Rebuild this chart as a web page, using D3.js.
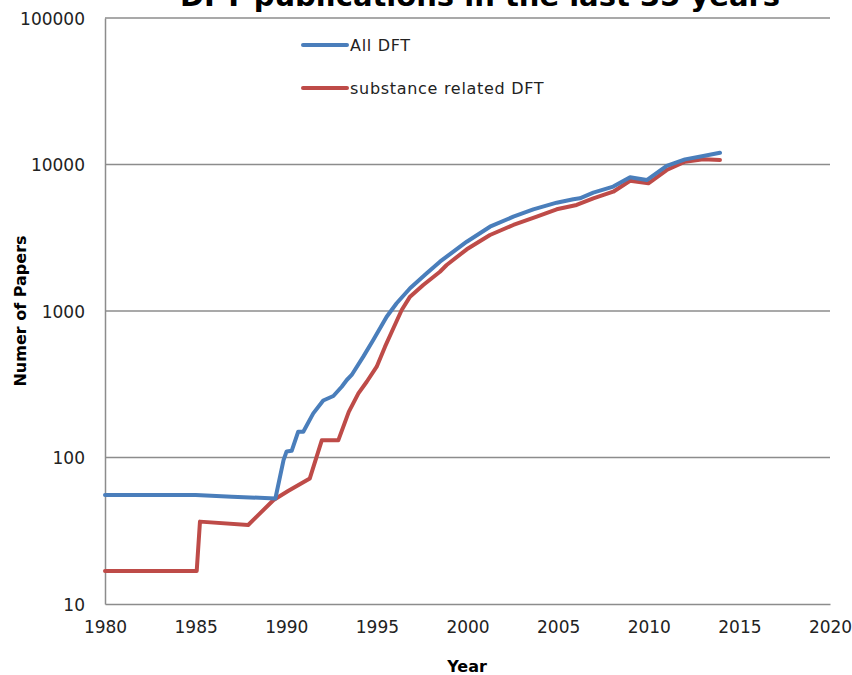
<!DOCTYPE html>
<html>
<head>
<meta charset="utf-8">
<script src="https://cdn.jsdelivr.net/npm/d3@7/dist/d3.min.js"></script>
<style>
  html, body { margin: 0; padding: 0; background: #fff; }
  svg { display: block; font-family: "DejaVu Sans", sans-serif; }
</style>
</head>
<body>
<svg id="chart" width="852" height="675"></svg>
<script>
// Publication counts per year (fractional years where the series was sampled within a year)
const allYears = [1980, 1985, 1987, 1989.4, 1989.85, 1990.02, 1990.3, 1990.66, 1990.94, 1991.49,
  1992.04, 1992.6, 1993.06, 1993.34, 1993.61, 1994.25, 1994.8, 1995.54, 1996.09, 1996.83,
  1997.75, 1998.48, 1998.85, 1999.96, 2001.24, 2002.53, 2003.63, 2004.92, 2005.84, 2006.2,
  2006.94, 2008.04, 2008.97, 2009.89, 2010.99, 2012, 2013.01, 2013.93];
const allCounts = [55.5, 55.5, 54, 52.5, 96, 110, 111, 150, 150, 200,
  245, 263, 304, 338, 366, 488, 634, 914, 1129, 1429,
  1808, 2171, 2349, 2972, 3762, 4404, 4945, 5486, 5785, 5879,
  6424, 7063, 8181, 7834, 9772, 10840, 11430, 12040];

const substanceYears = [1980, 1985.06, 1985.24, 1987.9, 1989.3, 1990.1, 1991.3, 1991.96, 1992.87, 1993.45,
  1993.98, 1994.44, 1994.99, 1995.45, 1995.91, 1996.37, 1996.83, 1997.56, 1998.48, 1998.85,
  1999.96, 2001.24, 2002.53, 2003.82, 2004.92, 2006.02, 2006.94, 2008.04, 2008.97, 2009.98,
  2010.99, 2012, 2013.01, 2013.93];
const substanceCounts = [16.8, 16.8, 36.5, 34.6, 51.3, 59, 72, 131, 131, 205,
  274, 329, 417, 571, 762, 1016, 1253, 1506, 1854, 2061,
  2637, 3303, 3865, 4404, 4945, 5293, 5879, 6521, 7750, 7440,
  9169, 10450, 10840, 10730];

const seriesNames = ["All DFT", "substance related DFT"];
const seriesColors = ["#4a7ebb", "#be4b48"];
const xTicks = [1980, 1985, 1990, 1995, 2000, 2005, 2010, 2015, 2020];
const yTicks = [10, 100, 1000, 10000, 100000];

const titleText = "DFT publications in the last 35 years";
const xTitle = "Year";
const yTitle = "Numer of Papers";

const svg = d3.select("#chart");
const margin = { left: 105, right: 22, top: 18, bottom: 71 };
const W = 852, H = 675;

const x = d3.scaleLinear().domain([1980, 2020]).range([margin.left, W - margin.right]);
const y = d3.scaleLog().domain([10, 100000]).range([H - margin.bottom, margin.top]);

const gridColor = "#8c8c8c";

// Horizontal gridlines (including the top border)
svg.append("g")
  .selectAll("line")
  .data(yTicks.slice(1))
  .join("line")
  .attr("x1", x(1980)).attr("x2", x(2020))
  .attr("y1", d => y(d)).attr("y2", d => y(d))
  .attr("stroke", gridColor).attr("stroke-width", 1.3);

// Axes
const xAxis = d3.axisBottom(x).tickValues(xTicks).tickFormat(d3.format("d")).tickSize(0).tickPadding(20);
const yAxis = d3.axisLeft(y).tickValues(yTicks).tickFormat(d3.format("d")).tickSize(0).tickPadding(20);

const gx = svg.append("g").attr("transform", `translate(0,${y(10)})`).call(xAxis);
const gy = svg.append("g").attr("transform", `translate(${x(1980)},0)`).call(yAxis);

[gx, gy].forEach(g => {
  g.select(".domain").attr("stroke", gridColor).attr("stroke-width", 1.5);
  g.selectAll("text").attr("font-size", 17).attr("fill", "#222")
    .attr("font-family", "DejaVu Sans, sans-serif");
});
gy.selectAll("text").attr("dy", "0.36em");
gx.selectAll("text").attr("dy", "0.5em");

// Series lines
const line = d3.line().x(d => x(d[0])).y(d => y(d[1]));
const series = [
  d3.zip(allYears, allCounts),
  d3.zip(substanceYears, substanceCounts)
];
// draw red first so blue sits on top where they overlap
[1, 0].forEach(i => {
  svg.append("path")
    .datum(series[i])
    .attr("d", line)
    .attr("fill", "none")
    .attr("stroke", seriesColors[i])
    .attr("stroke-width", 4)
    .attr("stroke-linejoin", "round")
    .attr("stroke-linecap", "round");
});

// Legend
const legendY = [45, 88];
seriesNames.forEach((name, i) => {
  svg.append("line")
    .attr("x1", 303).attr("x2", 347)
    .attr("y1", legendY[i]).attr("y2", legendY[i])
    .attr("stroke", seriesColors[i]).attr("stroke-width", 4)
    .attr("stroke-linecap", "round");
  svg.append("text")
    .attr("x", 350).attr("y", legendY[i])
    .attr("dy", "0.36em")
    .attr("font-size", 16)
    .attr("letter-spacing", 0.7)
    .attr("fill", "#222")
    .text(name);
});

// Title (partially above the top edge)
svg.append("text")
  .attr("x", 480).attr("y", 6)
  .attr("text-anchor", "middle")
  .attr("font-size", 29).attr("font-weight", "bold")
  .attr("fill", "#000")
  .text(titleText);

// Axis titles
svg.append("text")
  .attr("x", 467).attr("y", 672)
  .attr("text-anchor", "middle")
  .attr("font-size", 16).attr("font-weight", "bold")
  .attr("fill", "#000")
  .text(xTitle);

svg.append("text")
  .attr("transform", "translate(26,311) rotate(-90)")
  .attr("text-anchor", "middle")
  .attr("font-size", 16).attr("font-weight", "bold")
  .attr("fill", "#000")
  .text(yTitle);
</script>
</body>
</html>
